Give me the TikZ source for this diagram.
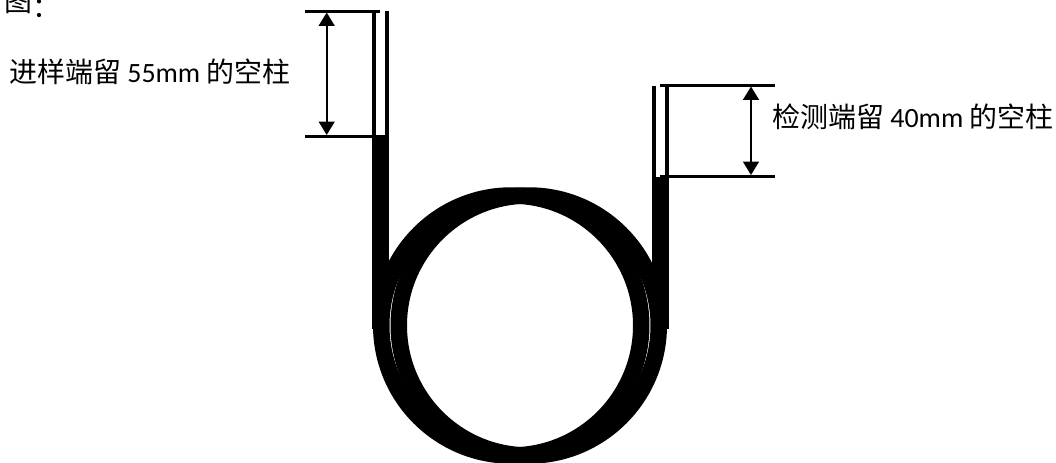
\documentclass[tikz,border=0pt]{standalone}
\usepackage{fontspec}
\setmainfont{Carlito}
\newfontfamily\cjk{Noto Sans CJK SC}
\usetikzlibrary{arrows.meta}
\tikzset{
  tube/.style={line width=0.08cm},
  ring/.style={line width=0.33cm},
  extline/.style={line width=0.06cm},
  dimline/.style={line width=0.035cm,{Triangle[width=0.32cm,length=0.27cm]}-{Triangle[width=0.32cm,length=0.27cm]},shorten <=0.02cm,shorten >=0.02cm},
  lab/.style={inner sep=0,anchor=west,font=\fontsize{15.9pt}{18pt}\selectfont}
}
\begin{document}
\begin{tikzpicture}[x=0.02cm,y=-0.02cm]
\useasboundingbox (0,0) rectangle (1056,463);
% coil
\draw[ring] (511.25,325.5) circle (130);
\draw[ring] (528.75,325.5) circle (130);
% inlet end
\coordinate (A1) at (305,11.5);
\coordinate (A2) at (380,11.5);
\coordinate (A3) at (305,136);
\coordinate (A4) at (380,136);
\coordinate (A5) at (326.7,11.5);
\coordinate (A6) at (326.7,136);
\fill (372,135) rectangle (389,329);
\draw[tube] (374,11.5)--(374,136);
\draw[tube] (387,11)--(387,136);
\draw[extline] (A1)--(A2);
\draw[extline] (A3)--(A4);
\draw[dimline] (A5)--(A6);
% detector end
\coordinate (B1) at (660,85.5);
\coordinate (B2) at (775,85.5);
\coordinate (B3) at (660,176);
\coordinate (B4) at (775,176);
\coordinate (B5) at (751,85.5);
\coordinate (B6) at (751,176);
\fill (652,177) rectangle (669,329);
\draw[tube] (654,86)--(654,177);
\draw[tube] (667,85)--(667,177);
\draw[extline] (B1)--(B2);
\draw[extline] (B3)--(B4);
\draw[dimline] (B5)--(B6);
% labels
\node[lab] (fig) at (4.5,3.5) {\cjk 图\raisebox{-3pt}{：}};
\node[lab] (inlet) at (9,72) {\cjk 进样端留 \rmfamily 55mm \cjk 的空柱};
\node[lab] (detector) at (772,117) {\cjk 检测端留 \rmfamily 40mm \cjk 的空柱};
\end{tikzpicture}
\end{document}
